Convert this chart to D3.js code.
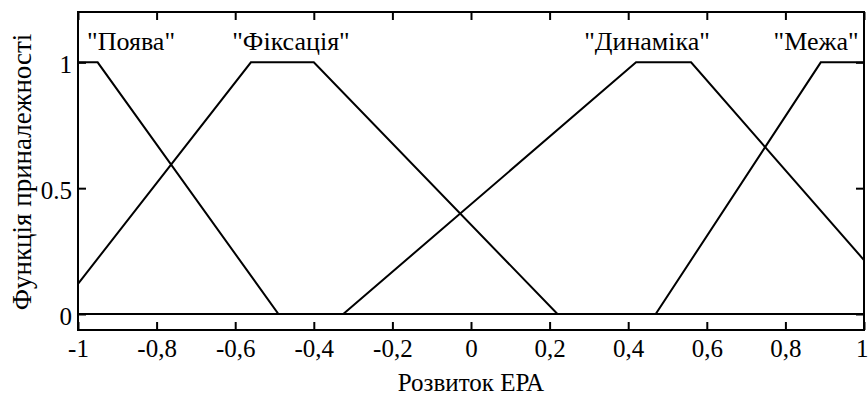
<!DOCTYPE html>
<html>
<head>
<meta charset="utf-8">
<script src="https://cdn.jsdelivr.net/npm/d3@7"></script>
<style>
  body { margin: 0; background: #fff; }
</style>
</head>
<body>
<svg id="chart" width="868" height="400"></svg>
<script>
// Linguistic terms and their trapezoid membership functions (a, b, c, d)
const termNames = ["\"Поява\"", "\"Фіксація\"", "\"Динаміка\"", "\"Межа\""];
const footLeft  = [-1.30, -1.06, -0.325, 0.47];
const topLeft   = [-1.20, -0.56,  0.42,  0.89];
const topRight  = [-0.95, -0.40,  0.56,  1.20];
const footRight = [-0.49,  0.22,  1.12,  1.30];
const labelX    = [-0.865, -0.458, 0.448, 0.878];

const xTicks = [-1, -0.8, -0.6, -0.4, -0.2, 0, 0.2, 0.4, 0.6, 0.8, 1];
const yTicks = [0, 0.5, 1];
const xDomain = [-1, 1];
const yDomain = [-0.0635, 1.2];

const serif = "\"Liberation Serif\"";
const svg = d3.select("#chart");
const plot = { left: 78, right: 864, top: 12, bottom: 330 };

const x = d3.scaleLinear().domain(xDomain).range([plot.left, plot.right]);
const y = d3.scaleLinear().domain(yDomain).range([plot.bottom, plot.top]);

function membership(i, v) {
  const a = footLeft[i], b = topLeft[i], c = topRight[i], d = footRight[i];
  return Math.max(0, Math.min((v - a) / (b - a), 1, (d - v) / (d - c)));
}

// Polyline vertices: domain ends plus every corner that falls inside the domain
const curves = termNames.map((name, i) => {
  const xs = [xDomain[0], footLeft[i], topLeft[i], topRight[i], footRight[i], xDomain[1]]
    .filter(v => v >= xDomain[0] && v <= xDomain[1])
    .sort((p, q) => p - q);
  return xs.map(v => [v, membership(i, v)]);
});

const line = d3.line().x(d => x(d[0])).y(d => y(d[1]));

svg.append("g")
  .selectAll("path")
  .data(curves)
  .join("path")
  .attr("d", line)
  .attr("fill", "none")
  .attr("stroke", "#000")
  .attr("stroke-width", 2)
  .attr("stroke-linejoin", "miter");

// Axes with inward ticks on all four sides
const fmtX = d => String(d).replace(".", ",");
const fmtY = d => String(d);

const gx = svg.append("g").attr("transform", `translate(0,${plot.bottom})`)
  .call(d3.axisBottom(x).tickValues(xTicks).tickFormat(fmtX).tickSizeInner(-8).tickSizeOuter(0).tickPadding(9));
const gxTop = svg.append("g").attr("transform", `translate(0,${plot.top})`)
  .call(d3.axisTop(x).tickValues(xTicks).tickFormat("").tickSizeInner(-8).tickSizeOuter(0));
const gy = svg.append("g").attr("transform", `translate(${plot.left},0)`)
  .call(d3.axisLeft(y).tickValues(yTicks).tickFormat(fmtY).tickSizeInner(-8).tickSizeOuter(0).tickPadding(6));
const gyRight = svg.append("g").attr("transform", `translate(${plot.right},0)`)
  .call(d3.axisRight(y).tickValues(yTicks).tickFormat("").tickSizeInner(-8).tickSizeOuter(0));

[gx, gxTop, gy, gyRight].forEach(g => {
  g.select(".domain").remove();
  g.selectAll(".tick line").attr("stroke", "#000").attr("stroke-width", 2);
  g.selectAll(".tick text")
    .style("font-family", serif)
    .style("font-size", "25px")
    .attr("fill", "#000");
});
gy.selectAll(".tick text").attr("dy", "0.42em");

// The last x label sits on the right edge; keep it inside the canvas
gx.selectAll(".tick text").filter(d => d === xDomain[1]).attr("text-anchor", "end").attr("x", 4);

// Frame
svg.append("rect")
  .attr("x", plot.left).attr("y", plot.top)
  .attr("width", plot.right - plot.left).attr("height", plot.bottom - plot.top)
  .attr("fill", "none").attr("stroke", "#000").attr("stroke-width", 2);

// Term labels
svg.append("g")
  .selectAll("text")
  .data(termNames)
  .join("text")
  .attr("x", (d, i) => x(labelX[i]))
  .attr("y", 50)
  .attr("text-anchor", "middle")
  .style("font-family", serif)
  .style("font-size", "26px")
  .text(d => d);

// Axis titles
svg.append("text")
  .attr("x", (plot.left + plot.right) / 2)
  .attr("y", 391)
  .attr("text-anchor", "middle")
  .style("font-family", serif)
  .style("font-size", "25px")
  .text("Розвиток ЕРА");

svg.append("text")
  .attr("transform", "translate(31,172) rotate(-90)")
  .attr("text-anchor", "middle")
  .style("font-family", serif)
  .style("font-size", "27px")
  .text("Функція приналежності");
</script>
</body>
</html>
